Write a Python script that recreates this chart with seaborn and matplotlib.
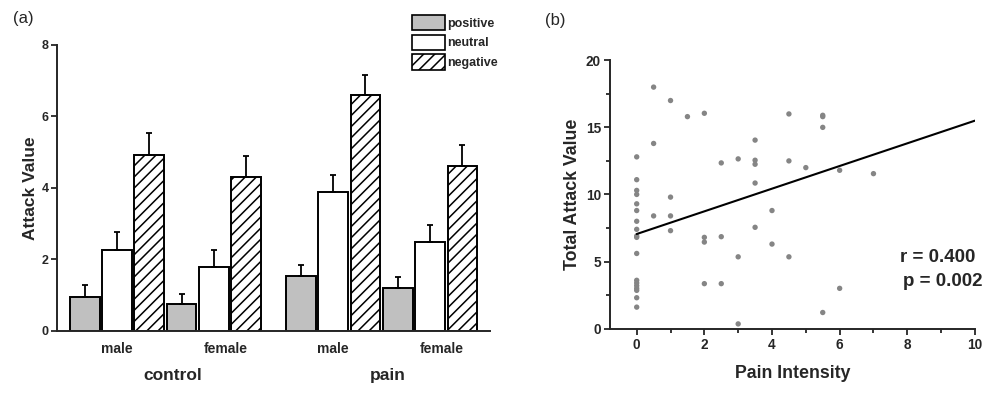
import numpy as np
import pandas as pd
import matplotlib
matplotlib.use('Agg')
import matplotlib.pyplot as plt
from matplotlib.patches import Patch
import seaborn as sns

# (a) 그룹별 평균과 표준오차
conditions = ['control', 'control', 'pain', 'pain']
sexes = ['male', 'female', 'male', 'female']
valences = ['positive', 'neutral', 'negative']
positive_mean = [0.94, 0.75, 1.55, 1.19]
neutral_mean = [2.27, 1.80, 3.88, 2.49]
negative_mean = [4.91, 4.30, 6.60, 4.60]
positive_sem = [0.34, 0.29, 0.29, 0.31]
neutral_sem = [0.50, 0.46, 0.47, 0.46]
negative_sem = [0.62, 0.59, 0.57, 0.59]

# (b) 통증 강도와 총 공격값
pain_intensity = [0]*18 + [0.5]*3 + [1]*4 + [1.5] + [2]*4 + [2.5]*3 + [3]*3 + [3.5]*5 + [4]*2 + [4.5]*3 + [5] + [5.5]*4 + [6]*2 + [7]
total_attack = [12.8, 11.1, 10.3, 10.0, 9.3, 8.8, 8.0, 7.4, 6.9, 6.8, 5.6, 3.6, 3.4, 3.2, 3.0, 2.85, 2.3, 1.6,
                18.0, 13.8, 8.4,
                17.0, 9.8, 8.4, 7.3,
                15.8,
                16.05, 6.8, 6.45, 3.35,
                12.35, 6.85, 3.35,
                12.65, 5.35, 0.35,
                14.05, 12.55, 12.25, 10.85, 7.55,
                8.8, 6.3,
                16.0, 12.5, 5.35,
                12.0,
                15.9, 15.8, 15.0, 1.2,
                11.8, 3.0,
                11.55]
# 그림에서 읽은 회귀선 (x=0, x=10 에서의 값)
fit_x = [0, 10]
fit_y = [7.05, 15.5]
r_text = 'r = 0.400'
p_text = 'p = 0.002'

sns.set_style('ticks')
plt.rcParams['font.family'] = ['Liberation Sans', 'DejaVu Sans']
plt.rcParams['hatch.linewidth'] = 1.1

fig = plt.figure(figsize=(9.98, 3.94), dpi=100)
ax1 = fig.add_axes([0.0571, 0.160, 0.4339, 0.726])
ax2 = fig.add_axes([0.6112, 0.166, 0.3657, 0.681])

# 막대 위치: pain 그룹은 조금 떨어뜨림
group_x = np.arange(4) + np.array([0, 0, 0.23, 0.23])
means = [positive_mean, neutral_mean, negative_mean]
sems = [positive_sem, neutral_sem, negative_sem]
rows = []
for v, m, s in zip(valences, means, sems):
    for i in range(4):
        rows.append({'x': group_x[i], 'valence': v, 'value': m[i], 'sem': s[i]})
df = pd.DataFrame(rows)

colors = {'positive': '#c0c0c0', 'neutral': 'white', 'negative': 'white'}
sns.barplot(data=df, x='x', y='value', hue='valence', hue_order=valences,
            native_scale=True, width=1.0, gap=0.08, errorbar=None,
            palette=colors, edgecolor='black', linewidth=1.4, legend=False, ax=ax1)

# 빗금 + 위쪽 에러바
for cont, v in zip(ax1.containers, valences):
    sub = df[df.valence == v].sort_values('x')
    xs, hs = [], []
    for bar in cont:
        xs.append(bar.get_x() + bar.get_width() / 2)
        hs.append(bar.get_height())
        if v == 'negative':
            bar.set_hatch('///')
    ax1.errorbar(xs, hs, yerr=[np.zeros(len(hs)), sub['sem'].values], fmt='none',
                 ecolor='black', elinewidth=1.3, capsize=2.4, capthick=1.3, zorder=3)

ax1.set_xlim(-0.619, 3.848)
ax1.set_ylim(0, 8)
ax1.set_yticks([0, 2, 4, 6, 8])
ax1.set_xticks(group_x + np.array([0, 0.12, 0, 0.12]))
ax1.set_xticklabels(sexes, fontsize=10, fontweight='bold')
ax1.tick_params(axis='x', length=0, pad=8)
ax1.tick_params(axis='y', length=4, width=1.3, labelsize=9, pad=2)
for t in ax1.get_yticklabels():
    t.set_fontweight('bold')
ax1.set_xlabel('')
ax1.set_ylabel('Attack Value', fontsize=12.5, fontweight='bold')
ax1.yaxis.set_label_coords(-0.044, 0.5)
sns.despine(ax=ax1)
for sp in ['left', 'bottom']:
    ax1.spines[sp].set_linewidth(1.4)

for cond, cx in [('control', 0.58), ('pain', 2.79)]:
    ax1.text(cx, -0.155, cond, transform=ax1.get_xaxis_transform(), ha='center', va='center',
             fontsize=12.5, fontweight='bold')

handles = [Patch(facecolor='#c0c0c0', edgecolor='black', linewidth=1.2),
           Patch(facecolor='white', edgecolor='black', linewidth=1.2),
           Patch(facecolor='white', edgecolor='black', linewidth=1.2, hatch='///')]
fig.legend(handles, valences, loc='upper left', bbox_to_anchor=(412 / 998, 1 - 15 / 394),
           frameon=False, prop={'size': 9, 'weight': 'bold'}, handlelength=2.6,
           handleheight=1.5, labelspacing=0.35, handletextpad=0.25, borderpad=0, borderaxespad=0)

# (b) 산점도 + 회귀선
sns.scatterplot(x=pain_intensity, y=total_attack, color='#858585', s=15, edgecolor='none', ax=ax2)
sns.lineplot(x=fit_x, y=fit_y, color='black', linewidth=1.5, ax=ax2)
ax2.set_xlim(-0.79, 10)
ax2.set_ylim(0, 20)
ax2.set_xticks([0, 2, 4, 6, 8, 10])
ax2.set_xticks([1, 3, 5, 7, 9], minor=True)
ax2.set_yticks([0, 5, 10, 15, 20])
ax2.set_yticks([2.5, 7.5, 12.5, 17.5], minor=True)
ax2.tick_params(which='major', length=4.5, width=1.3, labelsize=9.8, pad=2)
ax2.tick_params(which='minor', length=2.8, width=1.3)
for t in ax2.get_xticklabels() + ax2.get_yticklabels():
    t.set_fontweight('bold')
ax2.set_xlabel('Pain Intensity', fontsize=12.8, fontweight='bold')
ax2.xaxis.set_label_coords(0.5, -0.135)
ax2.set_ylabel('Total Attack Value', fontsize=12.8, fontweight='bold')
ax2.yaxis.set_label_coords(-0.080, 0.5)
sns.despine(ax=ax2)
for sp in ['left', 'bottom']:
    ax2.spines[sp].set_linewidth(1.4)

ax2.text(1.0, 0.265, r_text, transform=ax2.transAxes, ha='right', va='center', fontsize=13.5, fontweight='bold')
ax2.text(1.02, 0.175, p_text, transform=ax2.transAxes, ha='right', va='center', fontsize=13.5, fontweight='bold')

fig.text(23 / 998, 1 - 18 / 394, '(a)', ha='center', va='center', fontsize=12)
fig.text(555 / 998, 1 - 20 / 394, '(b)', ha='center', va='center', fontsize=12)

fig.savefig('out.png', dpi=100)
